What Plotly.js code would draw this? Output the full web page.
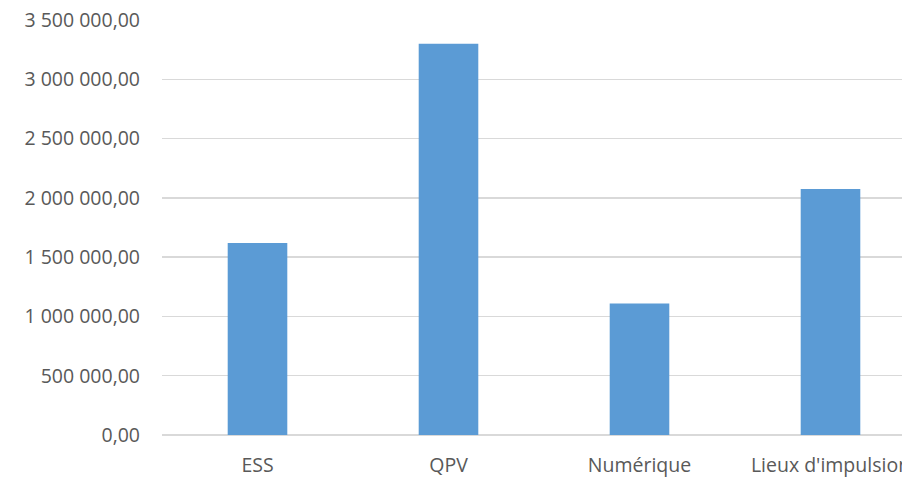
<!DOCTYPE html>
<html>
<head>
<meta charset="utf-8">
<script src="https://cdn.plot.ly/plotly-3.0.1.min.js"></script>
<style>
html,body{margin:0;padding:0;overflow:hidden;width:902px;height:479px;background:#fff;}
#chart{width:930px;height:479px;}
</style>
</head>
<body>
<div id="chart"></div>
<script>
var categories = ["ESS", "QPV", "Numérique", "Lieux d'impulsion"];
var values = [1620000, 3300000, 1110000, 2075000];
var yTicks = [0, 500000, 1000000, 1500000, 2000000, 2500000, 3000000, 3500000];

Plotly.newPlot('chart', [{
  type: 'bar',
  x: categories,
  y: values,
  marker: {color: '#5B9BD5'},
  hoverinfo: 'x+y'
}], {
  width: 930,
  height: 479,
  margin: {l: 162, r: 4, t: 20, b: 44},
  paper_bgcolor: '#ffffff',
  plot_bgcolor: '#ffffff',
  separators: ', ',
  bargap: 0.688,
  showlegend: false,
  font: {family: 'Open Sans, sans-serif', size: 20, color: '#595959'},
  xaxis: {
    type: 'category',
    showgrid: false,
    showline: false,
    ticks: '',
    ticklabelstandoff: 16,
    tickfont: {size: 19.5, color: '#595959'},
    automargin: false
  },
  yaxis: {
    range: [0, 3500000],
    tickvals: yTicks,
    tickformat: ',.2f',
    showgrid: true,
    gridcolor: '#D9D9D9',
    gridwidth: 1.3,
    zeroline: true,
    zerolinecolor: '#D9D9D9',
    zerolinewidth: 1.3,
    showline: false,
    ticks: '',
    ticklabelstandoff: 21,
    tickfont: {size: 19.5, color: '#595959'},
    automargin: false
  }
}, {displayModeBar: false, staticPlot: true});
</script>
</body>
</html>
